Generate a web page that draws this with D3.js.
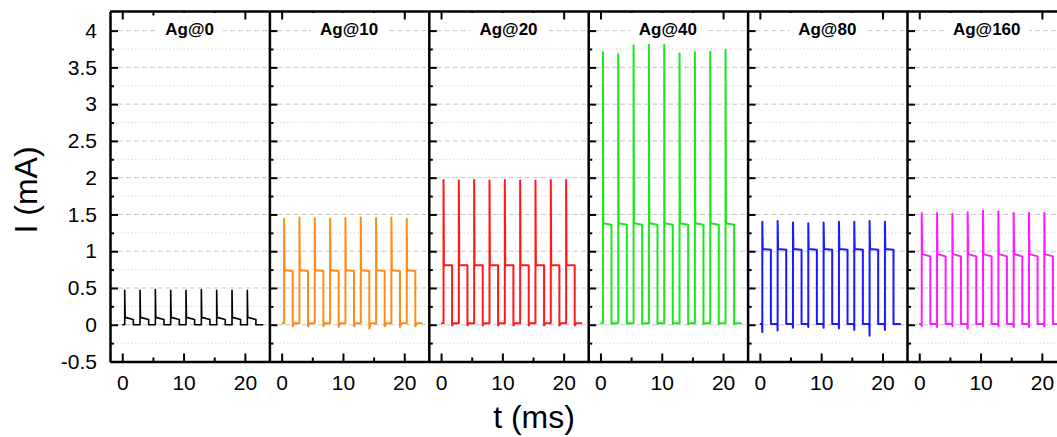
<!DOCTYPE html>
<html>
<head>
<meta charset="utf-8">
<script src="https://cdn.jsdelivr.net/npm/d3@7"></script>
<style>
body{margin:0;background:#fff;}
svg{display:block;}
text{font-family:Arial,"Liberation Sans",sans-serif;}
</style>
</head>
<body>
<div id="chart-area"></div>
<script>
// panel titles and colours
const panelNames=['Ag@0','Ag@10','Ag@20','Ag@40','Ag@80','Ag@160'];
const panelColors=['#000000','#ff8c1a','#ff1a1a','#1ee61e','#1a1aff','#ff1aff'];

// tick values
const yMajor=[-0.5,0,0.5,1,1.5,2,2.5,3,3.5,4];
const yMinor=[-0.25,0.25,0.75,1.25,1.75,2.25,2.75,3.25,3.75];
const xMajor=[0,10,20];
const xMinor=[5,15];

// pulse edges (ms)
const riseT=[0.4,2.9,5.4,7.9,10.4,12.9,15.4,17.9,20.4];
const fallT=[1.8,4.3,6.8,9.3,11.8,14.3,16.8,19.3,21.8];
const traceStart=0, traceEnd=23;

// spike peaks (mA)
const spikeAg0=[0.47,0.47,0.48,0.47,0.47,0.48,0.47,0.47,0.47];
const spikeAg10=[1.44,1.46,1.45,1.44,1.45,1.46,1.45,1.46,1.44];
const spikeAg20=[1.97,1.96,1.97,1.96,1.97,1.96,1.96,1.97,1.97];
const spikeAg40=[3.71,3.68,3.80,3.81,3.81,3.69,3.71,3.71,3.74];
const spikeAg80=[1.40,1.41,1.39,1.38,1.39,1.40,1.40,1.41,1.40];
const spikeAg160=[1.52,1.52,1.51,1.53,1.55,1.54,1.52,1.52,1.52];

// plateau level at start / end of each pulse (mA)
const platStart=[0.10,0.74,0.81,1.38,1.03,0.96];
const platEnd=[0.07,0.73,0.81,1.36,1.02,0.93];
// baseline between pulses (mA)
const baseLevel=[0,0.02,0.02,0.02,0.01,0.01];

// undershoots (mA)
const dipAg0=[0,0,0,0,0,0,0,0,0];
const dipAg10=[-0.02,-0.02,-0.02,-0.03,-0.02,-0.05,-0.02,-0.03,-0.02];
const dipAg20=[-0.01,-0.01,-0.01,-0.01,-0.01,-0.01,-0.01,-0.01,-0.01];
const dipAg40=[0.01,0.01,0.01,0.01,0.01,0.01,0.01,0.01,0.01];
const dipAg80=[-0.10,-0.08,-0.04,-0.03,-0.04,-0.05,-0.07,-0.15,-0.07];
const dipAg160=[-0.02,-0.03,-0.02,-0.05,-0.02,-0.02,-0.03,-0.03,-0.02];
const dipAt=['fall','fall','fall','fall','rise','rise'];

const spikes=[spikeAg0,spikeAg10,spikeAg20,spikeAg40,spikeAg80,spikeAg160];
const dips=[dipAg0,dipAg10,dipAg20,dipAg40,dipAg80,dipAg160];

const W=1057,H=437;
const panelLeft=110, panelW=159.4, plotTop=11.5, plotBottom=361.5;

const svg=d3.select('#chart-area').append('svg')
    .attr('width',W)
    .attr('height',H);

const x=d3.scaleLinear().domain([-2,24]).range([0,panelW]);
const y=d3.scaleLinear().domain([-0.5,4.26]).range([plotBottom,plotTop]);

const line=d3.line().x(d=>x(d[0])).y(d=>y(d[1]));

function tracePoints(i){
    const b=baseLevel[i];
    const pts=[[traceStart,b]];
    riseT.forEach((r,k)=>{
        const f=fallT[k];
        const dp=dips[i][k];
        if(dipAt[i]==='rise'){
            pts.push([r-0.05,b],[r,dp]);
        }else{
            pts.push([r,b]);
        }
        pts.push([r,spikes[i][k]],[r+0.07,platStart[i]],[f,platEnd[i]]);
        if(dipAt[i]==='fall'){
            pts.push([f,dp],[f+0.25,b]);
        }else{
            pts.push([f,b]);
        }
    });
    pts.push([traceEnd,b]);
    return pts;
}

function styleAxis(sel,fs){
    sel.select('.domain').attr('stroke','#000').attr('stroke-width',2.5);
    sel.selectAll('.tick line').attr('stroke','#000').attr('stroke-width',2);
    sel.selectAll('.tick text').attr('font-size',fs).attr('fill','#000')
        .attr('font-family','Arial, "Liberation Sans", sans-serif');
}

panelNames.forEach((name,i)=>{
    const g=svg.append('g')
        .attr('transform','translate('+(panelLeft+i*panelW)+',0)');

    // grid
    g.selectAll('.gmin').data(yMinor).enter().append('line')
        .attr('x1',0).attr('x2',panelW)
        .attr('y1',d=>y(d)).attr('y2',d=>y(d))
        .attr('stroke','#d9d9d9').attr('stroke-width',1)
        .attr('stroke-dasharray','1.5,2');
    g.selectAll('.gmaj').data(yMajor.slice(1)).enter().append('line')
        .attr('x1',0).attr('x2',panelW)
        .attr('y1',d=>y(d)).attr('y2',d=>y(d))
        .attr('stroke','#c8c8c8').attr('stroke-width',1)
        .attr('stroke-dasharray','5,3');

    // trace
    g.append('path')
        .datum(tracePoints(i))
        .attr('d',line)
        .attr('fill','none')
        .attr('stroke',panelColors[i])
        .attr('stroke-width',i===0?1.6:2)
        .attr('stroke-linejoin','round');

    // top ticks (partly hidden by the title box)
    const topMaj=g.append('g').attr('transform','translate(0,'+plotTop+')')
        .call(d3.axisTop(x).tickValues(xMajor).tickSizeInner(-8).tickSizeOuter(0).tickFormat(''));
    styleAxis(topMaj,0);
    topMaj.select('.domain').remove();
    const topMin=g.append('g').attr('transform','translate(0,'+plotTop+')')
        .call(d3.axisTop(x).tickValues(xMinor).tickSizeInner(-4).tickSizeOuter(0).tickFormat(''));
    styleAxis(topMin,0);
    topMin.select('.domain').remove();

    // title with white box
    const box=g.append('rect').attr('fill','#fff');
    const title=g.append('text')
        .attr('x',panelW/2)
        .attr('y',35)
        .attr('text-anchor','middle')
        .attr('font-size','17px')
        .attr('font-weight',700)
        .text(name);
    const tw=title.node().getComputedTextLength();
    box.attr('x',panelW/2-tw/2-9)
        .attr('y',plotTop+1.5)
        .attr('width',tw+18)
        .attr('height',31);

    // top frame line
    g.append('line')
        .attr('x1',0).attr('x2',panelW)
        .attr('y1',plotTop).attr('y2',plotTop)
        .attr('stroke','#000').attr('stroke-width',2.5);

    // bottom axis
    const bMaj=g.append('g').attr('transform','translate(0,'+plotBottom+')')
        .call(d3.axisBottom(x).tickValues(xMajor).tickSizeInner(-8).tickSizeOuter(0).tickPadding(14).tickFormat(d=>String(d)));
    styleAxis(bMaj,'21px');
    const bMin=g.append('g').attr('transform','translate(0,'+plotBottom+')')
        .call(d3.axisBottom(x).tickValues(xMinor).tickSizeInner(-4).tickSizeOuter(0).tickFormat(''));
    styleAxis(bMin,0);
    bMin.select('.domain').remove();

    // left axis
    const lMaj=g.append('g')
        .call(d3.axisLeft(y).tickValues(yMajor).tickSizeInner(-8).tickSizeOuter(0).tickPadding(13)
            .tickFormat(i===0?(d=>String(d)):''));
    styleAxis(lMaj,'21px');
    const lMin=g.append('g')
        .call(d3.axisLeft(y).tickValues(yMinor).tickSizeInner(-4).tickSizeOuter(0).tickFormat(''));
    styleAxis(lMin,0);
    lMin.select('.domain').remove();
});

// axis labels
svg.append('text')
    .attr('transform','translate(37,190) rotate(-90)')
    .attr('text-anchor','middle')
    .attr('font-size','32px')
    .text('I (mA)');

svg.append('text')
    .attr('x',534)
    .attr('y',428)
    .attr('text-anchor','middle')
    .attr('font-size','32px')
    .text('t (ms)');
</script>
</body>
</html>
